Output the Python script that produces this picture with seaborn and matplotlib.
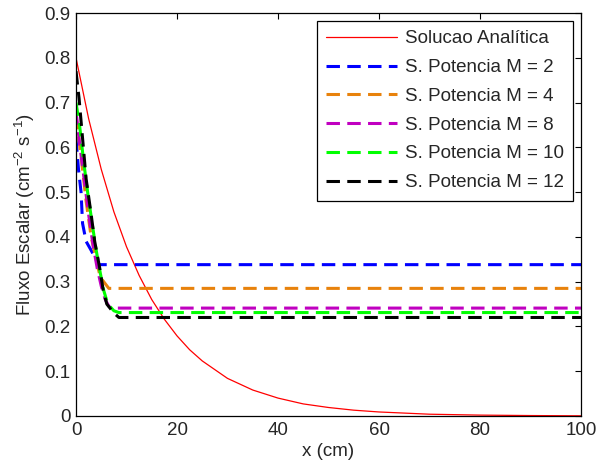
import numpy as np
import pandas as pd
import matplotlib
matplotlib.use("Agg")
import matplotlib.pyplot as plt
import seaborn as sns

# ---- data ----
x_analitica = [0, 2.5, 5, 7.5, 10, 12.5, 15, 17.5, 20, 22.5, 25, 30, 35, 40, 45, 50, 55, 60, 70, 80, 90, 100]
y_analitica = [0.80, 0.664, 0.551, 0.456, 0.378, 0.314, 0.260, 0.216, 0.179, 0.148, 0.123, 0.084, 0.058,
               0.040, 0.027, 0.019, 0.013, 0.009, 0.004, 0.002, 0.001, 0.0004]

x_m2 = [0, 0.5, 1.0, 1.3, 2.0, 3.0, 4.5, 100]
y_m2 = [0.62, 0.55, 0.50, 0.43, 0.39, 0.37, 0.338, 0.338]

x_m4 = [0, 1.0, 2.0, 3.0, 4.0, 4.8, 6.5, 100]
y_m4 = [0.67, 0.58, 0.48, 0.40, 0.35, 0.31, 0.285, 0.285]

x_m8 = [0, 0.8, 1.6, 2.5, 3.4, 4.2, 5.0, 5.8, 6.5, 7.0, 100]
y_m8 = [0.68, 0.60, 0.53, 0.45, 0.38, 0.33, 0.29, 0.26, 0.245, 0.241, 0.241]

x_m10 = [0, 0.7, 1.5, 2.3, 3.2, 4.0, 4.8, 5.5, 6.3, 7.5, 8.5, 100]
y_m10 = [0.70, 0.65, 0.57, 0.50, 0.43, 0.37, 0.32, 0.28, 0.25, 0.235, 0.231, 0.231]

x_m12 = [0, 0.6, 1.3, 2.0, 3.0, 3.7, 4.7, 5.4, 6.1, 7.5, 8.5, 100]
y_m12 = [0.77, 0.71, 0.62, 0.53, 0.45, 0.39, 0.33, 0.28, 0.25, 0.23, 0.22, 0.22]

labels = ["Solucao Analítica", "S. Potencia M = 2", "S. Potencia M = 4",
          "S. Potencia M = 8", "S. Potencia M = 10", "S. Potencia M = 12"]
colors = ["#ff0000", "#0000ff", "#e8820c", "#c000c0", "#00ff00", "#000000"]

xticks = [0, 20, 40, 60, 80, 100]
yticks = [0, 0.1, 0.2, 0.3, 0.4, 0.5, 0.6, 0.7, 0.8, 0.9]

# ---- plot ----
sns.set_style("white")
plt.rcParams["font.family"] = ["Liberation Sans", "DejaVu Sans"]
plt.rcParams["mathtext.fontset"] = "custom"
plt.rcParams["mathtext.rm"] = "Liberation Sans"
plt.rcParams["mathtext.it"] = "Liberation Sans:italic"
plt.rcParams["xtick.direction"] = "in"
plt.rcParams["ytick.direction"] = "in"

FS = 13.5

fig = plt.figure(figsize=(5.96, 4.74), dpi=100)
ax = fig.add_axes([76 / 596, 1 - 416 / 474, (581 - 76) / 596, (416 - 13) / 474])

series = [(x_analitica, y_analitica), (x_m2, y_m2), (x_m4, y_m4),
          (x_m8, y_m8), (x_m10, y_m10), (x_m12, y_m12)]
for i, ((xs, ys), lab, col) in enumerate(zip(series, labels, colors)):
    df = pd.DataFrame({"x": xs, "y": ys})
    if i == 0:
        sns.lineplot(data=df, x="x", y="y", ax=ax, color=col, lw=0.9, label=lab,
                     sort=False, estimator=None)
    else:
        sns.lineplot(data=df, x="x", y="y", ax=ax, color=col, lw=2.2, label=lab,
                     sort=False, estimator=None, linestyle=(0, (4.4, 2.4)))

ax.set_xlim(0, 100)
ax.set_ylim(0, 0.9)
ax.set_xticks(xticks)
ax.set_xticklabels([str(t) for t in xticks])
ax.set_yticks(yticks)
ax.set_yticklabels(["0" if t == 0 else f"{t:g}" for t in yticks])
ax.tick_params(axis="both", which="both", labelsize=FS, length=4, width=0.8,
               top=True, right=True, color="black", pad=4)
for s in ax.spines.values():
    s.set_visible(True)
    s.set_color("black")
    s.set_linewidth(0.9)

ax.set_xlabel("x (cm)", fontsize=FS, labelpad=3)
ax.set_ylabel(r"Fluxo Escalar (cm$^{-2}$ s$^{-1}$)", fontsize=FS, labelpad=5)

leg = ax.legend(loc="upper right", fontsize=FS, frameon=True, fancybox=False,
                edgecolor="black", framealpha=1, handlelength=3.8, handletextpad=0.4,
                labelspacing=0.62, borderaxespad=0.42, borderpad=0.5)
leg.get_frame().set_linewidth(0.9)

fig.savefig("out.png", dpi=100)
